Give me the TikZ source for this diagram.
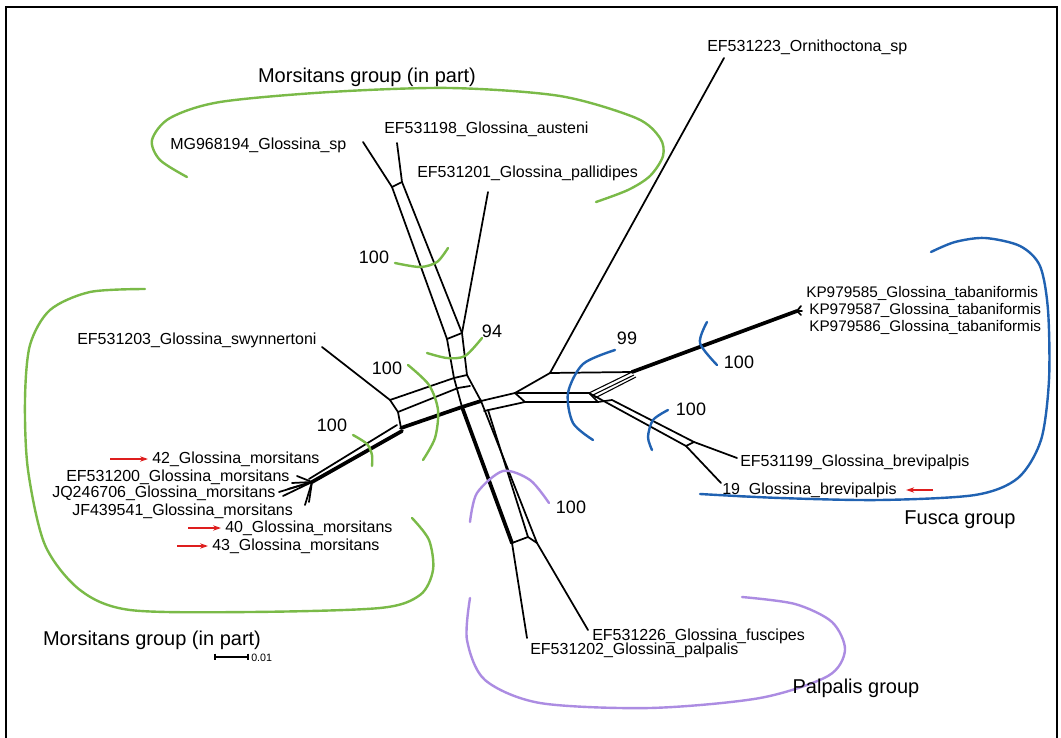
\documentclass[tikz,border=0pt]{standalone}
\usepackage{fontspec}
\setmainfont{Liberation Sans}
\usetikzlibrary{arrows.meta}
\definecolor{mgreen}{RGB}{122,186,72}
\definecolor{fblue}{RGB}{32,98,178}
\definecolor{ppurple}{RGB}{172,140,226}
\definecolor{rred}{RGB}{222,30,30}
\begin{document}
\begin{tikzpicture}[x=0.75pt,y=-0.75pt,
  net/.style={line width=1.3pt,line join=round,line cap=round},
  fatnet/.style={line width=2.8pt,line join=round,line cap=round},
  finenet/.style={line width=0.8pt},
  leaf/.style={font=\fontsize{12}{14}\selectfont,inner sep=0pt,anchor=west},
  kpleaf/.style={font=\fontsize{11.5}{13}\selectfont,inner sep=0pt,anchor=west},
  suplab/.style={font=\fontsize{13.5}{15}\selectfont,inner sep=0pt},
  grplab/.style={font=\fontsize{15}{17}\selectfont,inner sep=0pt},
  garc/.style={mgreen,line width=1.8pt,line cap=round},
  barc/.style={fblue,line width=1.8pt,line cap=round},
  parc/.style={ppurple,line width=1.8pt,line cap=round},
  redarrow/.style={rred,line width=0.9pt,-{Stealth[length=6pt,width=4pt]}}]
\useasboundingbox (0,0) rectangle (1061,738);
\fill[white] (0,0) rectangle (1061,738);
% frame
\draw[line width=1.5pt] (6,745) -- (6,7) -- (1057,7) -- (1057,745);

% ---------- network: upper (Morsitans) band ----------
\coordinate (P1) at (392,187); \coordinate (P2) at (402,182);
\coordinate (Q1) at (447,339); \coordinate (Q2) at (462,333);
\coordinate (R1) at (454,378); \coordinate (R2) at (467,375);
\coordinate (S1) at (462,407); \coordinate (S2) at (481,401);
\coordinate (T1) at (512,543); \coordinate (T2) at (537,543); \coordinate (T3) at (528,537);
\draw[net] (363,142) -- (P1) -- (P2) -- (397,143);
\draw[net] (P1) -- (Q1) -- (Q2) -- (P2);
\draw[net] (488,192) -- (Q2);
\draw[net] (Q1) -- (R1) -- (S1);
\draw[net] (Q2) -- (R2) -- (S2);
\draw[fatnet] (S1) -- (T1);
\draw[net] (S2) -- (T2);
\draw[net] (488,410) -- (T3);
\draw[net] (T1) -- (T3) -- (T2);
\draw[net] (T1) -- (527,638);
\draw[net] (T2) -- (588,630);

% ---------- Swynnertoni box and horizontal band ----------
\coordinate (B1) at (390,400); \coordinate (B2) at (398,412); \coordinate (B3) at (401,428);
\draw[net] (322,347) -- (B1);
\draw[net] (B1) -- (B2) -- (B3);
\draw[net] (B1) -- (R1) -- (R2);
\draw[net] (B2) -- (458,388) -- (470,386);
\draw[fatnet] (B3) -- (S1) -- (S2);

% ---------- lower-left band to morsitans cluster ----------
\coordinate (C) at (312,482);
\draw[net] (397,425) -- (309,479);
\draw[fatnet] (402,431) -- (C);
\draw[net] (C) -- (297,476);
\draw[net] (C) -- (292,483);
\draw[net] (C) -- (279,492);
\draw[net] (C) -- (283,496);
\draw[net] (C) -- (288,489);
\draw[net] (C) -- (305,505);
\draw[net] (C) -- (309,502);

% ---------- right side (Fusca + Ornithoctona) ----------
\coordinate (E1) at (515,393); \coordinate (E2) at (525,402);
\coordinate (O) at (550,373); \coordinate (G) at (632,372);
\coordinate (F1) at (589,393); \coordinate (F2) at (598,402);
\coordinate (H1) at (686,446); \coordinate (H2) at (694,442);
\draw[net] (S2) -- (E1) -- (E2) -- (484,411);
\draw[net] (E1) -- (O) -- (G);
\draw[net] (O) -- (724,58);
\draw[net] (E1) -- (F1);
\draw[net] (E2) -- (F2) -- (F1);
\draw[finenet] (F1) -- (G);
\draw[finenet] (592,395.5) -- (634,375);
\draw[finenet] (595,398) -- (636,377);
\draw[fatnet] (G) -- (797,311);
\draw[net] (797,311) -- (801,306);
\draw[net] (797,311) -- (802,311);
\draw[net] (797,311) -- (801,315);
\draw[net] (F1) -- (H1) -- (H2);
\draw[net] (F2) -- (612,400) -- (H2);
\draw[net] (H1) -- (721,483);
\draw[net] (H2) -- (737,458);

% ---------- leaf labels ----------
\node[leaf] (mg)  at (170,145) {MG968194\_Glossina\_sp};
\node[leaf] (aus) at (384,129) {EF531198\_Glossina\_austeni};
\node[leaf] (pal) at (417,173) {EF531201\_Glossina\_pallidipes};
\node[leaf] (orn) at (707,47)  {EF531223\_Ornithoctona\_sp};
\node[leaf] (swy) at (77,340)  {EF531203\_Glossina\_swynnertoni};
\node[kpleaf] (k85) at (806,293) {KP979585\_Glossina\_tabaniformis};
\node[kpleaf] (k87) at (809,310) {KP979587\_Glossina\_tabaniformis};
\node[kpleaf] (k86) at (809,327) {KP979586\_Glossina\_tabaniformis};
\node[leaf] (b99) at (740,462) {EF531199\_Glossina\_brevipalpis};
\node[leaf] (b19) at (722,490) {19\_Glossina\_brevipalpis};
\node[leaf] (fus) at (592,636) {EF531226\_Glossina\_fuscipes};
\node[leaf] (ppa) at (530,650) {EF531202\_Glossina\_palpalis};
\node[leaf] (m42) at (152,459) {42\_Glossina\_morsitans};
\node[leaf] (m00) at (66,477)  {EF531200\_Glossina\_morsitans};
\node[leaf] (mjq) at (52,493)  {JQ246706\_Glossina\_morsitans};
\node[leaf] (mjf) at (72,511)  {JF439541\_Glossina\_morsitans};
\node[leaf] (m40) at (225,528) {40\_Glossina\_morsitans};
\node[leaf] (m43) at (212,546) {43\_Glossina\_morsitans};

% red arrows
\coordinate (a42) at (110,459); \coordinate (a40) at (188,528);
\coordinate (a43) at (177,546); \coordinate (a19) at (933,490);
\draw[redarrow] (a42) -- ([xshift=-3pt]m42.west);
\draw[redarrow] (a40) -- ([xshift=-3pt]m40.west);
\draw[redarrow] (a43) -- ([xshift=-3pt]m43.west);
\draw[redarrow] (a19) -- ([xshift=7pt]b19.east);

% ---------- support arcs and values ----------
\draw[garc] plot[smooth] coordinates {(353,435) (367,444) (372,455) (372,466)};
\node[suplab] (s1) at (332,425) {100};
\draw[garc] plot[smooth] coordinates {(408,365) (429,385) (438,410) (435,438) (423,460)};
\node[suplab] (s2) at (387,368) {100};
\draw[garc] plot[smooth] coordinates {(427,353) (447,358) (465,356) (482,338)};
\node[suplab] (s3) at (492,331) {94};
\draw[garc] plot[smooth] coordinates {(395,263) (420,267) (437,262) (448,248)};
\node[suplab] (s4) at (374,257) {100};
\draw[barc] plot[smooth] coordinates {(615,350) (583,364) (568,393) (573,423) (593,440)};
\node[suplab] (s5) at (627,338) {99};
\draw[barc] plot[smooth] coordinates {(707,322) (700,343) (717,365)};
\node[suplab] (s6) at (739,362) {100};
\draw[barc] plot[smooth] coordinates {(668,410) (653,420) (648,437) (652,450)};
\node[suplab] (s7) at (691,409) {100};
\draw[parc] plot[smooth] coordinates {(470,522) (477,493) (503,471) (530,480) (549,503)};
\node[suplab] (s8) at (571,507) {100};

% ---------- group outlines ----------
\draw[garc] plot[smooth] coordinates {(187,177) (160,160) (152,140) (170,118) (220,102) (330,92) (450,88) (560,96) (636,118) (660,138) (663,156) (650,176) (628,190) (596,202)};
\node[grplab] (g1) at (367,77) {Morsitans group (in part)};
\draw[garc] plot[smooth] coordinates {(145,289) (90,292) (50,310) (30,345) (25,400) (28,470) (45,545) (80,590) (130,610) (250,612) (380,608) (420,595) (433,570) (429,540) (412,518)};
\node[grplab] (g2) at (152,640) {Morsitans group (in part)};
\draw[barc] plot[smooth] coordinates {(931,252) (955,242) (985,238) (1020,246) (1040,266) (1048,310) (1049,380) (1041,440) (1018,478) (975,495) (880,500) (780,498) (700,494)};
\node[grplab] (g3) at (960,520) {Fusca group};
\draw[parc] plot[smooth] coordinates {(470,598) (467,640) (485,680) (540,703) (650,708) (760,698) (828,676) (845,650) (832,622) (795,604) (742,597)};
\node[grplab] (g4) at (856,688) {Palpalis group};

% ---------- scale bar ----------
\coordinate (sb1) at (215,657); \coordinate (sb2) at (248,657);
\draw[line width=0.9pt] (sb1) -- (sb2);
\draw[line width=0.9pt] ([yshift=2.5pt]sb1) -- ([yshift=-2.5pt]sb1);
\draw[line width=0.9pt] ([yshift=2.5pt]sb2) -- ([yshift=-2.5pt]sb2);
\node[inner sep=0pt,anchor=west,font=\fontsize{8}{9}\selectfont] (sbl) at (251,658) {0.01};
\end{tikzpicture}
\end{document}
